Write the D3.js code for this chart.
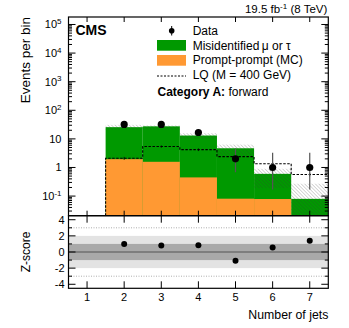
<!DOCTYPE html>
<html>
<head>
<meta charset="utf-8">
<script src="https://cdn.jsdelivr.net/npm/d3@7"></script>
<style>
  body { margin: 0; background: #fff; }
  text { font-family: "Liberation Sans", Arial, sans-serif; fill: #000; }
</style>
</head>
<body>
<svg id="chart" width="349" height="328"></svg>
<script>
//Values
const jetBins = [2, 3, 4, 5, 6, 7];
const xTicks = [1, 2, 3, 4, 5, 6, 7];
const dataObs = [32, 32, 16.7, 2, 1, 1];
const dataErrLow = [5.6, 5.6, 4.0, 1.32, 0.83, 0.83];
const dataErrHigh = [6.8, 6.8, 5.2, 2.64, 2.3, 2.3];
const promptMC = [1.95, 1.58, 0.45, 0.081, 0.079, 0];
const misidMuTau = [23.75, 25.9, 12.65, 4.62, 0.52, 0.08];
const bkgUncLow = [21, 21, 10, 2.6, 0.19, 0.005];
const bkgUncHigh = [31, 29.5, 15.8, 6.3, 0.9, 0.27];
const lqSignal = [2.1, 5.4, 4.2, 2.4, 1.35, 0.57];
const lqErr = [0.25, 0.5, 0.45, 0.3, 0.15, 0.08];
const zScore = [1.0, 0.8, 0.85, -1.1, 0.55, 1.4];
const yLogTicks = [1e-1, 1, 10, 1e2, 1e3, 1e4, 1e5];
const zTicks = [-4, -2, 0, 2, 4];

//Layout
const left = 68.5, right = 328.3;
const mainTop = 17, mainBottom = 215.7;
const lowTop = 215.7, lowBottom = 288.3;
const green = '#009900';
const orange = '#ff9933';

const svg = d3.select('#chart');

var x = d3.scaleLinear().domain([0.5, 7.5]).range([left, right]);
var y = d3.scaleLog().domain([0.0206, Math.pow(10, 5.262)]).range([mainBottom, mainTop]);
var z = d3.scaleLinear().domain([-4.5, 4.5]).range([lowBottom, lowTop]);

//Hatch pattern for background uncertainty
const defs = svg.append('defs');
defs.append('pattern')
    .attr('id', 'hatch')
    .attr('patternUnits', 'userSpaceOnUse')
    .attr('width', 2.5)
    .attr('height', 2.5)
    .attr('patternTransform', 'rotate(-45)')
    .append('line')
    .attr('x1', 0).attr('y1', 0).attr('x2', 0).attr('y2', 2.5)
    .attr('stroke', '#333')
    .attr('stroke-width', 0.8)
    .attr('opacity', 0.5);

defs.append('clipPath').attr('id', 'mainClip')
    .append('rect')
    .attr('x', left).attr('y', mainTop)
    .attr('width', right - left).attr('height', mainBottom - mainTop);

const bins = jetBins.map(function(b, i) {
    return {
        lo: b - 0.5, hi: b + 0.5, c: b,
        prompt: promptMC[i],
        total: promptMC[i] + misidMuTau[i],
        uncLo: bkgUncLow[i], uncHi: bkgUncHigh[i],
        lq: lqSignal[i], lqErr: lqErr[i],
        obs: dataObs[i], errLo: dataErrLow[i], errHi: dataErrHigh[i],
        z: zScore[i]
    };
});

const yMin = y.domain()[0];
function yc(v) { return y(Math.max(v, yMin)); }

const main = svg.append('g').attr('clip-path', 'url(#mainClip)');

//Stacked histograms
main.selectAll('rect.mis')
    .data(bins).enter().append('rect')
    .attr('x', d => x(d.lo))
    .attr('width', d => x(d.hi) - x(d.lo))
    .attr('y', d => yc(d.total))
    .attr('height', d => mainBottom - yc(d.total))
    .attr('fill', green);

main.selectAll('rect.prompt')
    .data(bins.filter(d => d.prompt > 0)).enter().append('rect')
    .attr('x', d => x(d.lo))
    .attr('width', d => x(d.hi) - x(d.lo))
    .attr('y', d => yc(d.prompt))
    .attr('height', d => mainBottom - yc(d.prompt))
    .attr('fill', orange);

//Uncertainty band
main.selectAll('rect.unc')
    .data(bins).enter().append('rect')
    .attr('x', d => x(d.lo))
    .attr('width', d => x(d.hi) - x(d.lo))
    .attr('y', d => yc(d.uncHi))
    .attr('height', d => yc(d.uncLo) - yc(d.uncHi))
    .attr('fill', 'url(#hatch)');

//LQ signal as dashed step line
var stepPts = [[x(bins[0].lo), mainBottom]];
bins.forEach(function(d) {
    stepPts.push([x(d.lo), y(d.lq)]);
    stepPts.push([x(d.hi), y(d.lq)]);
});
main.append('path')
    .attr('d', d3.line()(stepPts))
    .attr('fill', 'none')
    .attr('stroke', '#000')
    .attr('stroke-width', 1.1)
    .attr('stroke-dasharray', '2.5,1.5');

main.selectAll('line.lqerr')
    .data(bins).enter().append('line')
    .attr('x1', d => x(d.c)).attr('x2', d => x(d.c))
    .attr('y1', d => y(d.lq + d.lqErr)).attr('y2', d => y(d.lq - d.lqErr))
    .attr('stroke', '#000').attr('stroke-width', 0.8);

//Data points
main.selectAll('line.derr')
    .data(bins).enter().append('line')
    .attr('x1', d => x(d.c)).attr('x2', d => x(d.c))
    .attr('y1', d => y(d.obs + d.errHi)).attr('y2', d => yc(d.obs - d.errLo))
    .attr('stroke', '#555').attr('stroke-width', 1.2);

main.selectAll('circle.data')
    .data(bins).enter().append('circle')
    .attr('cx', d => x(d.c)).attr('cy', d => y(d.obs))
    .attr('r', 3.6).attr('fill', '#000');

//Lower panel bands
const low = svg.append('g');
low.append('rect')
    .attr('x', left).attr('width', right - left)
    .attr('y', z(2)).attr('height', z(-2) - z(2))
    .attr('fill', '#e3e3e3');
low.append('rect')
    .attr('x', left).attr('width', right - left)
    .attr('y', z(1)).attr('height', z(-1) - z(1))
    .attr('fill', '#a9a9a9');
low.selectAll('line.sig3')
    .data([-3, 3]).enter().append('line')
    .attr('x1', left).attr('x2', right)
    .attr('y1', d => z(d)).attr('y2', d => z(d))
    .attr('stroke', '#999').attr('stroke-width', 0.8)
    .attr('stroke-dasharray', '1,1.5');
low.append('line')
    .attr('x1', left).attr('x2', right)
    .attr('y1', z(0)).attr('y2', z(0))
    .attr('stroke', '#555').attr('stroke-width', 1.2);
low.selectAll('circle.z')
    .data(bins).enter().append('circle')
    .attr('cx', d => x(d.c)).attr('cy', d => z(d.z))
    .attr('r', 3).attr('fill', '#000');

//Axes: ticks drawn inward on all sides
function inwardTicks(g, scale, values, orient, pos, len) {
    g.selectAll(null).data(values).enter().append('line')
        .attr('x1', d => orient === 'h' ? scale(d) : pos)
        .attr('x2', d => orient === 'h' ? scale(d) : pos + len)
        .attr('y1', d => orient === 'h' ? pos : scale(d))
        .attr('y2', d => orient === 'h' ? pos + len : scale(d))
        .attr('stroke', '#000').attr('stroke-width', 1);
}

const axes = svg.append('g');
var minorLog = [];
for (var e = -2; e <= 5; e++)
    for (var m = 2; m <= 9; m++) {
        var v = m * Math.pow(10, e);
        if (v > y.domain()[0] && v < y.domain()[1]) minorLog.push(v);
    }
inwardTicks(axes, y, yLogTicks, 'v', left, 7);
inwardTicks(axes, y, minorLog, 'v', left, 3.5);
inwardTicks(axes, y, yLogTicks, 'v', right, -7);
inwardTicks(axes, y, minorLog, 'v', right, -3.5);
inwardTicks(axes, x, xTicks, 'h', mainTop, 5);
inwardTicks(axes, x, xTicks, 'h', mainBottom, -5);

var zMinor = d3.range(-4, 4.01, 1).filter(d => d % 2 !== 0);
inwardTicks(axes, z, zTicks, 'v', left, 7);
inwardTicks(axes, z, zMinor, 'v', left, 3.5);
inwardTicks(axes, z, zTicks, 'v', right, -7);
inwardTicks(axes, z, zMinor, 'v', right, -3.5);
inwardTicks(axes, x, xTicks, 'h', lowTop, 7);
inwardTicks(axes, x, xTicks, 'h', lowBottom, -7);

//Frames
axes.append('rect')
    .attr('x', left).attr('y', mainTop)
    .attr('width', right - left).attr('height', mainBottom - mainTop)
    .attr('fill', 'none').attr('stroke', '#000').attr('stroke-width', 1.2);
axes.append('rect')
    .attr('x', left).attr('y', lowTop)
    .attr('width', right - left).attr('height', lowBottom - lowTop)
    .attr('fill', 'none').attr('stroke', '#000').attr('stroke-width', 1.2);

//Tick labels
const yLab = axes.selectAll('text.ylab')
    .data(yLogTicks).enter().append('text')
    .attr('x', left - 7)
    .attr('y', d => y(d) + 4)
    .attr('text-anchor', 'end')
    .attr('font-size', 11);
yLab.each(function(d) {
    var ex = Math.round(Math.log10(d));
    var t = d3.select(this);
    if (ex === 0) { t.text('1'); return; }
    if (ex === 1) { t.text('10'); return; }
    t.append('tspan').text('10');
    t.append('tspan').attr('dy', -4.5).attr('font-size', 8).text(ex);
});

axes.selectAll('text.zlab')
    .data(zTicks).enter().append('text')
    .attr('x', left - 4)
    .attr('y', d => z(d) + 4)
    .attr('text-anchor', 'end')
    .attr('font-size', 11)
    .text(d => d);

axes.selectAll('text.xlab')
    .data(xTicks).enter().append('text')
    .attr('x', d => x(d))
    .attr('y', lowBottom + 13)
    .attr('text-anchor', 'middle')
    .attr('font-size', 11)
    .text(d => d);

//Axis titles
svg.append('text')
    .attr('transform', 'translate(30,' + mainTop + ') rotate(-90)')
    .attr('text-anchor', 'end')
    .attr('font-size', 13.5)
    .text('Events per bin');
svg.append('text')
    .attr('transform', 'translate(30,' + z(0) + ') rotate(-90)')
    .attr('text-anchor', 'middle')
    .attr('font-size', 12)
    .text('Z-score');
svg.append('text')
    .attr('x', right)
    .attr('y', 319)
    .attr('text-anchor', 'end')
    .attr('font-size', 12.3)
    .text('Number of jets');

//Header
const hdr = svg.append('text')
    .attr('x', right - 1)
    .attr('y', 13)
    .attr('text-anchor', 'end')
    .attr('font-size', 11.5);
hdr.append('tspan').text('19.5 fb');
hdr.append('tspan').attr('dy', -4).attr('font-size', 8).text('-1');
hdr.append('tspan').attr('dy', 4).text(' (8 TeV)');

svg.append('text')
    .attr('x', 75.5).attr('y', 35)
    .attr('font-size', 14).attr('font-weight', 'bold')
    .text('CMS');

//Legend
const legend = svg.append('g');
const legX = 157, legTextX = 192.7;
legend.append('line')
    .attr('x1', 171.7).attr('x2', 171.7).attr('y1', 26).attr('y2', 35.5)
    .attr('stroke', '#000').attr('stroke-width', 1);
legend.append('circle').attr('cx', 171.7).attr('cy', 30.7).attr('r', 2.8).attr('fill', '#000');
legend.append('rect').attr('x', legX).attr('y', 40).attr('width', 29).attr('height', 10.7).attr('fill', green);
legend.append('rect').attr('x', legX).attr('y', 55).attr('width', 29).attr('height', 10.7).attr('fill', orange);
legend.append('line')
    .attr('x1', legX).attr('x2', legX + 29).attr('y1', 76).attr('y2', 76)
    .attr('stroke', '#000').attr('stroke-width', 1).attr('stroke-dasharray', '2,1.5');

const legLabels = ['Data', 'Misidentified\u202f\u03bc or \u03c4', 'Prompt-prompt (MC)', 'LQ (M = 400 GeV)'];
legend.selectAll('text.leg')
    .data(legLabels).enter().append('text')
    .attr('x', legTextX)
    .attr('y', (d, i) => 35 + i * 14.7)
    .attr('font-size', 12)
    .text(d => d);

const cat = svg.append('text')
    .attr('x', legX + 0.5).attr('y', 95.5)
    .attr('font-size', 12);
cat.append('tspan').attr('font-weight', 'bold').text('Category A:');
cat.append('tspan').text(' forward');
</script>
</body>
</html>
